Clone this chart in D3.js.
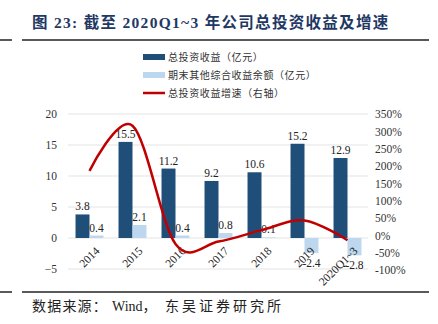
<!DOCTYPE html>
<html><head><meta charset="utf-8">
<script src="https://cdn.jsdelivr.net/npm/d3@7"></script>
<style>body{margin:0;background:#fff}svg{display:block}</style>
</head><body>
<script>
const categories = ["2014","2015","2016","2017","2018","2019","2020Q1~3"];
const investIncome = [3.8,15.5,11.2,9.2,10.6,15.2,12.9];
const otherCompIncome = [0.4,2.1,0.4,0.8,0.1,-2.4,-2.8];
const growth = [186,316,-25,-18,15,43,-14];
const leftTicks = [-5,0,5,10,15,20];
const rightTicks = [-100,-50,0,50,100,150,200,250,300,350];
const seriesNames = ["总投资收益（亿元）","期末其他综合收益余额（亿元）","总投资收益增速（右轴）"];

const W=438,H=324;
const svg=d3.select("body").append("svg").attr("width",W).attr("height",H);
const serif="'Liberation Serif','Times New Roman',serif";
const cjk="'Noto Sans CJK SC',sans-serif";
const mixed="'Liberation Serif','Noto Sans CJK SC',serif";

// Title
svg.append("text").attr("x",32).attr("y",28).attr("font-family",mixed).attr("font-weight","bold")
  .attr("font-size",15.5).attr("letter-spacing",1.3).attr("fill","#1f3864").text("图 23:  截至 2020Q1~3 年公司总投资收益及增速");
svg.append("line").attr("x1",22).attr("x2",429).attr("y1",40).attr("y2",40).attr("stroke","#222").attr("stroke-width",1.5);
svg.append("line").attr("x1",0).attr("x2",12).attr("y1",40).attr("y2",40).attr("stroke","#222").attr("stroke-width",1.5);
svg.append("line").attr("x1",22).attr("x2",429).attr("y1",292).attr("y2",292).attr("stroke","#222").attr("stroke-width",1.5);
svg.append("line").attr("x1",0).attr("x2",12).attr("y1",292).attr("y2",292).attr("stroke","#222").attr("stroke-width",1.5);
const src=svg.append("text").attr("y",311).attr("font-family",mixed).attr("font-size",14).attr("fill","#222");
src.append("tspan").attr("x",32).attr("letter-spacing",1.2).text("数据来源：");
src.append("tspan").attr("x",112).text("Wind，");
src.append("tspan").attr("x",165).attr("letter-spacing",3).text("东吴证券研究所");

const x0=d3.scaleBand().domain(categories).range([68,369]).paddingInner(0.35).paddingOuter(0.175);
const x1=d3.scaleBand().domain([0,1]).range([0,x0.bandwidth()]);
const yL=d3.scaleLinear().domain([-5,20]).range([269,114]);
const yR=d3.scaleLinear().domain([-100,350]).range([270,114]);

// grid
svg.append("g").selectAll("line").data(leftTicks).join("line")
  .attr("x1",68).attr("x2",368).attr("y1",d=>yL(d)).attr("y2",d=>yL(d))
  .attr("stroke","#e3e3e3").attr("stroke-width",1.2);

// left axis
const gl=svg.append("g").attr("transform","translate(57,0)").call(d3.axisLeft(yL).tickValues(leftTicks).tickSize(0).tickPadding(0));
gl.select(".domain").remove();
gl.selectAll("text").attr("font-family",serif).attr("font-size",11.5).attr("fill","#333");
// right axis
const gr=svg.append("g").attr("transform","translate(375,0)").call(d3.axisRight(yR).tickValues(rightTicks).tickSize(0).tickPadding(0).tickFormat(d=>d+"%"));
gr.select(".domain").remove();
gr.selectAll("text").attr("font-family",serif).attr("font-size",11.5).attr("fill","#333");

// bars
const g=svg.append("g");
const colors=["#1f4e79","#bdd7ee"];
[investIncome,otherCompIncome].forEach((arr,si)=>{
  g.selectAll(".b"+si).data(arr).join("rect")
   .attr("x",(d,i)=>x0(categories[i])+x1(si)).attr("width",x1.bandwidth())
   .attr("y",d=>Math.min(yL(d),yL(0))).attr("height",d=>Math.abs(yL(d)-yL(0)))
   .attr("fill",colors[si]);
  g.selectAll(".l"+si).data(arr).join("text")
   .attr("x",(d,i)=>x0(categories[i])+x1(si)+x1.bandwidth()/2)
   .attr("y",d=>d>=0?yL(d)-4:yL(d)+14)
   .attr("text-anchor","middle").attr("font-family",serif).attr("font-size",11.5).attr("fill","#222")
   .text(d=>d.toFixed(1));
});

// x labels
svg.append("g").selectAll("text").data(categories).join("text")
  .attr("transform",d=>`translate(${x0(d)+x0.bandwidth()/2+5},${yL(0)+8}) rotate(-45)`)
  .attr("text-anchor","end").attr("dy","0.7em").attr("font-family",serif).attr("font-size",11.5).attr("fill","#222")
  .text(d=>d);

// line
const line=d3.line().x((d,i)=>x0(categories[i])+x0.bandwidth()/2).y(d=>yR(d)).curve(d3.curveCatmullRom.alpha(0));
svg.append("path").datum(growth).attr("d",line).attr("fill","none").attr("stroke","#c00000").attr("stroke-width",2.5);

// legend
const lg=svg.append("g");
const ly=[57,75,93];
lg.append("rect").attr("x",143).attr("y",ly[0]-3).attr("width",22).attr("height",6).attr("fill",colors[0]);
lg.append("rect").attr("x",143).attr("y",ly[1]-3).attr("width",22).attr("height",6).attr("fill",colors[1]);
lg.append("line").attr("x1",143).attr("x2",165).attr("y1",ly[2]).attr("y2",ly[2]).attr("stroke","#c00000").attr("stroke-width",2.5);
lg.selectAll("text").data(seriesNames).join("text").attr("x",168).attr("y",(d,i)=>ly[i]).attr("dy","0.35em")
  .attr("font-family",cjk).attr("font-size",10).attr("letter-spacing",0.6).attr("fill","#333").text(d=>d);
</script>
</body></html>
